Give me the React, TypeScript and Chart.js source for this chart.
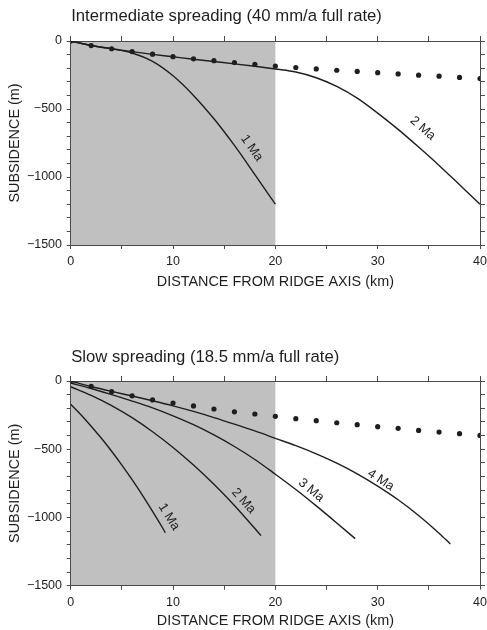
import React, { useEffect, useRef } from 'react';
import { Chart, registerables } from 'chart.js';

Chart.register(...registerables);

const FONT = '"Liberation Sans", Arial, Helvetica, sans-serif';
const INK = '#1e1e1e';
const FRAME = '#4a4a4a';
const SHADE = '#c0c0c0';

// ---------- shared axis values ----------
const xTicksKm = [0, 10, 20, 30, 40];
const yTicksM = [0, -500, -1000, -1500];
const shadeKm = [0, 20];

// ---------- top panel: intermediate spreading ----------
const topTitle = 'Intermediate spreading (40 mm/a full rate)';
const topDotKm = [0, 2, 4, 6, 8, 10, 12, 14, 16, 18, 20, 22, 24, 26, 28, 30, 32, 34, 36, 38, 40];
const topDotM = [0, -34, -57, -78, -97, -115, -131, -145, -158, -171, -184, -195, -205, -215, -224, -233, -242, -251, -259, -268, -276];

const top1MaKm = [0, 2, 4, 6, 8, 10, 12, 14, 16, 18, 20];
const top1MaM = [0, -33, -57, -88, -150, -256, -400, -572, -768, -982, -1200];

const top2MaKm = [0, 2, 4, 6, 8, 10, 12, 14, 16, 18, 20, 22, 24, 26, 28, 30, 32, 34, 36, 38, 40];
const top2MaM = [0, -33, -57, -78, -98, -116, -134, -151, -168, -186, -206, -228, -270, -334, -420, -530, -650, -780, -915, -1057, -1200];

const topLabelText = ['1 Ma', '2 Ma'];
const topLabelKm = [17.7, 34.4];
const topLabelM = [-787, -642];
const topLabelDeg = [55, 41];

// ---------- bottom panel: slow spreading ----------
const botTitle = 'Slow spreading (18.5 mm/a full rate)';
const botDotKm = [0, 2, 4, 6, 8, 10, 12, 14, 16, 18, 20, 22, 24, 26, 28, 30, 32, 34, 36, 38, 40];
const botDotM = [0, -40, -78, -109, -139, -162, -183, -205, -226, -242, -259, -276, -291, -306, -320, -335, -347, -362, -374, -386, -399];

const bot1MaKm = [0, 1, 2, 3, 4, 5, 6, 7, 8, 9, 9.25];
const bot1MaM = [-170, -247, -331, -420, -515, -616, -723, -836, -955, -1079, -1112];

const bot2MaKm = [0, 2, 4, 6, 8, 10, 12, 14, 16, 18, 18.6];
const bot2MaM = [-42, -105, -180, -269, -372, -487, -616, -757, -912, -1081, -1133];

const bot3MaKm = [0, 2, 4, 6, 8, 10, 12, 14, 16, 18, 20, 22, 24, 26, 27.8];
const bot3MaM = [-15, -55, -100, -147, -197, -255, -320, -395, -480, -575, -683, -795, -915, -1040, -1155];

const bot4MaKm = [0, 2, 4, 6, 8, 10, 12, 14, 16, 18, 20, 22, 24, 26, 28, 30, 32, 34, 36, 37.1];
const bot4MaM = [0, -40, -76, -110, -145, -182, -223, -268, -316, -366, -420, -474, -534, -602, -680, -770, -870, -985, -1115, -1194];

const botLabelText = ['1 Ma', '2 Ma', '3 Ma', '4 Ma'];
const botLabelKm = [9.6, 16.9, 23.5, 30.3];
const botLabelM = [-996, -879, -800, -726];
const botLabelDeg = [58, 48, 40, 33];

const pts = (xs: number[], ys: number[]) => xs.map((x, i) => ({ x, y: ys[i] }));

type PanelDef = {
  title: string;
  titleBaseline: number;
  dots: { x: number; y: number }[];
  curves: { x: number; y: number }[][];
  labels: { text: string; x: number; y: number; deg: number }[];
  canvasH: number;
  padTop: number;
  bottomH: number;
  xTitlePad: number;
};

const panels: PanelDef[] = [
  {
    title: topTitle,
    titleBaseline: 20.5,
    dots: pts(topDotKm, topDotM),
    curves: [pts(top1MaKm, top1MaM), pts(top2MaKm, top2MaM)],
    labels: topLabelText.map((t, i) => ({ text: t, x: topLabelKm[i], y: topLabelM[i], deg: topLabelDeg[i] })),
    canvasH: 300,
    padTop: 36,
    bottomH: 55,
    xTitlePad: 9.7,
  },
  {
    title: botTitle,
    titleBaseline: 61.7,
    dots: pts(botDotKm, botDotM),
    curves: [pts(bot1MaKm, bot1MaM), pts(bot2MaKm, bot2MaM), pts(bot3MaKm, bot3MaM), pts(bot4MaKm, bot4MaM)],
    labels: botLabelText.map((t, i) => ({ text: t, x: botLabelKm[i], y: botLabelM[i], deg: botLabelDeg[i] })),
    canvasH: 330,
    padTop: 76,
    bottomH: 44.3,
    xTitlePad: 0,
  },
];

function buildConfig(p: PanelDef): any {
  const shadePlugin = {
    id: 'shade',
    beforeDraw(chart: any) {
      const { ctx, chartArea, scales } = chart;
      const x0 = scales.x.getPixelForValue(shadeKm[0]);
      const x1 = scales.x.getPixelForValue(shadeKm[1]);
      ctx.save();
      ctx.fillStyle = SHADE;
      ctx.fillRect(x0, chartArea.top, x1 - x0, chartArea.bottom - chartArea.top);
      ctx.restore();
    },
  };
  const textPlugin = {
    id: 'texts',
    afterDatasetsDraw(chart: any) {
      const { ctx, chartArea, scales } = chart;
      ctx.save();
      ctx.fillStyle = INK;
      ctx.font = `16.7px ${FONT}`;
      ctx.textAlign = 'left';
      ctx.textBaseline = 'alphabetic';
      ctx.fillText(p.title, chartArea.left + 0.5, p.titleBaseline);
      ctx.font = `13px ${FONT}`;
      ctx.textAlign = 'center';
      ctx.textBaseline = 'middle';
      p.labels.forEach((l) => {
        const px = scales.x.getPixelForValue(l.x);
        const py = scales.y.getPixelForValue(l.y);
        ctx.save();
        ctx.translate(px, py);
        ctx.rotate((l.deg * Math.PI) / 180);
        ctx.fillText(l.text, 0, 0);
        ctx.restore();
      });
      ctx.restore();
    },
  };

  const gridCommon = (len: number) => ({
    drawOnChartArea: false,
    drawTicks: true,
    tickLength: len,
    color: FRAME,
    tickColor: FRAME,
    lineWidth: 1,
  });
  const border = { display: true, color: FRAME, width: 1 };
  const xMin = xTicksKm[0];
  const xMax = xTicksKm[xTicksKm.length - 1];
  const yMin = yTicksM[yTicksM.length - 1];
  const yMax = yTicksM[0];

  return {
    type: 'line',
    data: {
      datasets: [
        {
          data: p.dots,
          showLine: false,
          pointRadius: 2.6,
          pointBorderWidth: 0,
          pointBackgroundColor: INK,
          borderColor: INK,
        },
        ...p.curves.map((c) => ({
          data: c,
          borderColor: INK,
          borderWidth: 1.4,
          pointRadius: 0,
          cubicInterpolationMode: 'monotone',
          fill: false,
        })),
      ],
    },
    options: {
      responsive: false,
      animation: false,
      events: [],
      layout: { padding: { top: p.padTop, right: 2, left: 0, bottom: 0 } },
      plugins: { legend: { display: false }, tooltip: { enabled: false }, title: { display: false } },
      scales: {
        x: {
          type: 'linear',
          position: 'bottom',
          min: xMin,
          max: xMax,
          grid: gridCommon(4),
          border,
          ticks: {
            stepSize: 5,
            autoSkip: false,
            maxRotation: 0,
            padding: 5.5,
            color: INK,
            font: { size: 12.5, family: FONT },
            callback: (v: number) => (xTicksKm.includes(v) ? String(v) : ''),
          },
          title: {
            display: true,
            text: 'DISTANCE FROM RIDGE AXIS (km)',
            color: INK,
            font: { size: 14.4, family: FONT },
            padding: { top: 0, bottom: p.xTitlePad },
          },
          afterFit: (s: any) => {
            s.height = p.bottomH;
            s.paddingLeft = 0;
            s.paddingRight = 0;
          },
        },
        x2: {
          type: 'linear',
          position: 'top',
          axis: 'x',
          min: xMin,
          max: xMax,
          grid: gridCommon(5),
          border,
          ticks: { display: false, stepSize: 5 },
          afterFit: (s: any) => {
            s.height = 5;
            s.paddingLeft = 0;
            s.paddingRight = 0;
          },
        },
        y: {
          type: 'linear',
          position: 'left',
          min: yMin,
          max: yMax,
          grid: gridCommon(4),
          border,
          ticks: {
            stepSize: 100,
            autoSkip: false,
            padding: 4.7,
            color: INK,
            font: { size: 12.5, family: FONT },
            callback: (v: number) => (yTicksM.includes(v) ? String(v).replace('-', '\u2212') : ''),
          },
          title: {
            display: true,
            text: 'SUBSIDENCE (m)',
            color: INK,
            font: { size: 14.4, family: FONT },
            padding: { top: 5.9, bottom: 0 },
          },
          afterFit: (s: any) => {
            s.width = 70.7;
            s.paddingTop = 0;
            s.paddingBottom = 0;
          },
        },
        y2: {
          type: 'linear',
          position: 'right',
          axis: 'y',
          min: yMin,
          max: yMax,
          grid: gridCommon(5),
          border,
          ticks: { display: false, stepSize: 100 },
          afterFit: (s: any) => {
            s.width = 5;
            s.paddingTop = 0;
            s.paddingBottom = 0;
          },
        },
      },
    },
    plugins: [shadePlugin, textPlugin],
  };
}

function Panel({ def, top }: { def: PanelDef; top: number }) {
  const ref = useRef<HTMLCanvasElement>(null);
  useEffect(() => {
    if (!ref.current) return;
    const chart = new Chart(ref.current, buildConfig(def));
    return () => chart.destroy();
  }, [def]);
  return (
    <canvas
      ref={ref}
      width={487}
      height={def.canvasH}
      style={{ position: 'absolute', left: 0, top, width: 487, height: def.canvasH, display: 'block' }}
    />
  );
}

export default function App() {
  return (
    <div style={{ position: 'absolute', left: 0, top: 0, width: 487, height: 630, background: '#fff', overflow: 'hidden' }}>
      <Panel def={panels[0]} top={0} />
      <Panel def={panels[1]} top={300} />
    </div>
  );
}
